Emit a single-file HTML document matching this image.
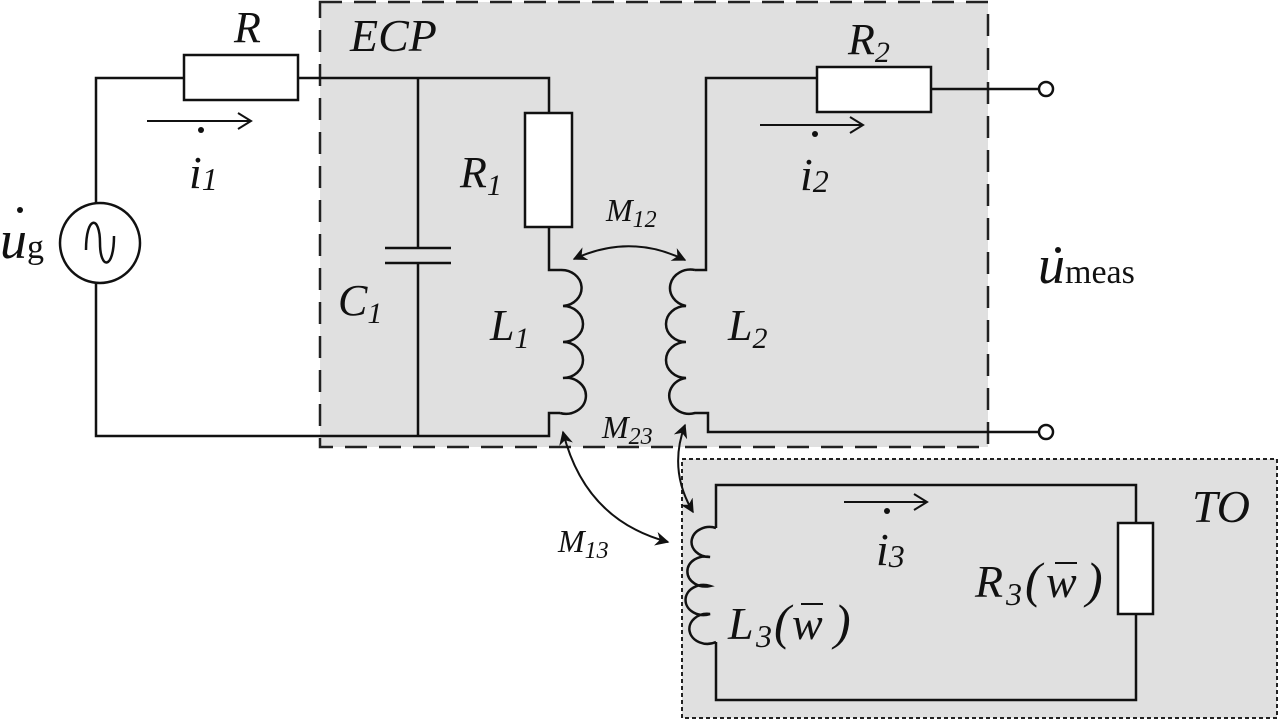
<!DOCTYPE html>
<html><head><meta charset="utf-8"><style>
html,body{margin:0;padding:0;background:#fff}
svg{display:block}
text{font-family:"Liberation Serif",serif;font-style:italic;fill:#111}
</style></head><body>
<svg width="1280" height="721" viewBox="0 0 1280 721" xmlns="http://www.w3.org/2000/svg">
<defs>
<marker id="a" viewBox="0 0 10 10" refX="9" refY="5" markerWidth="7" markerHeight="7" orient="auto-start-reverse"><path d="M0,0 L10,5 L0,10 L3,5 z" fill="#111"/></marker>
</defs>
<rect x="320" y="2" width="668" height="445" fill="#e0e0e0" stroke="#222" stroke-width="2.5" stroke-dasharray="22,12"/>
<rect x="682" y="459" width="595" height="259" fill="#e0e0e0" stroke="#222" stroke-width="2" stroke-dasharray="4,3"/>
<g fill="none" stroke="#111" stroke-width="2.5">
<path d="M96,203 V78 H184 M298,78 H549 V113 M549,227 V270 H560"/>
<rect x="184" y="55" width="114" height="45" fill="#fff"/>
<circle cx="100" cy="243" r="40" fill="#fff"/>
<path d="M86,250 C86,215 100,215 100,243 C100,270 114,270 114,236"/>
<path d="M96,283 V436 H549 V413 H560"/>
<path d="M418,78 V248 M385,248 H451 M385,263 H451 M418,263 V436"/>
<rect x="525" y="113" width="47" height="114" fill="#fff"/>
<path d="M560,270 A20,18 0 1 1 563,306 A20,18 0 1 1 563,342 A20,18 0 1 1 563,378 A20,18 0 1 1 560,413"/>
<path d="M695,270 H706 V78 H817 M931,89 H1039 M695,270 A20,18 0 1 0 686,306 A20,18 0 1 0 686,342 A20,18 0 1 0 686,378 A20,18 0 1 0 695,413 H708 V432 H1039"/>
<rect x="817" y="67" width="114" height="45" fill="#fff"/>
<circle cx="1046" cy="89" r="7" fill="#fff"/>
<circle cx="1046" cy="432" r="7" fill="#fff"/>
<path d="M716,528 V485 H1136 V523 M1136,614 V700 H716 V642"/>
<rect x="1118" y="523" width="35" height="91" fill="#fff"/>
<path d="M716,528 A18,15 0 1 0 710,557 A18,15 0 1 0 710,586 A18,15 0 1 0 710,614 A18,15 0 1 0 716,642"/>
<path d="M147,121 H250 M238,113 L251,121 L238,129" stroke-width="2"/>
<path d="M760,125 H862 M850,117 L863,125 L850,133" stroke-width="2"/>
<path d="M844,502 H926 M914,494 L927,502 L914,510" stroke-width="2"/>
<path d="M574,259 Q630,233 685,260" stroke-width="2" marker-start="url(#a)" marker-end="url(#a)"/>
<path d="M563,432 Q585,520 668,542" stroke-width="2" marker-start="url(#a)" marker-end="url(#a)"/>
<path d="M685,425 Q668,470 693,512" stroke-width="2" marker-start="url(#a)" marker-end="url(#a)"/>
<path d="M1055,563 H1077 M801,604 H823" stroke-width="2"/>
</g>
<g fill="#111">
<circle cx="201" cy="130" r="3"/><circle cx="815" cy="134" r="3"/><circle cx="887" cy="511" r="3"/>
<circle cx="20" cy="210" r="3"/><circle cx="1058" cy="250" r="3"/>
</g>
<text x="234" y="42" font-size="44">R</text>
<text x="350" y="51" font-size="46">ECP</text>
<text x="848" y="54" font-size="44">R<tspan font-size="30" dy="8">2</tspan></text>
<text x="189" y="188" font-size="46">i<tspan font-size="32" dy="2">1</tspan></text>
<text x="800" y="190" font-size="46">i<tspan font-size="32" dy="2">2</tspan></text>
<text x="876" y="565" font-size="46">i<tspan font-size="32" dy="2">3</tspan></text>
<text x="0" y="258" font-size="54">u<tspan font-style="normal" font-size="34">g</tspan></text>
<text x="1038" y="283" font-size="54">u<tspan font-style="normal" font-size="34">meas</tspan></text>
<text x="460" y="187" font-size="44">R<tspan font-size="30" dy="8">1</tspan></text>
<text x="338" y="315" font-size="44">C<tspan font-size="30" dy="8">1</tspan></text>
<text x="490" y="340" font-size="44">L<tspan font-size="30" dy="8">1</tspan></text>
<text x="728" y="340" font-size="44">L<tspan font-size="30" dy="8">2</tspan></text>
<text x="606" y="221" font-size="32">M<tspan font-size="24" dy="6">12</tspan></text>
<text x="602" y="438" font-size="32">M<tspan font-size="24" dy="6">23</tspan></text>
<text x="558" y="552" font-size="32">M<tspan font-size="24" dy="6">13</tspan></text>
<text x="1192" y="522" font-size="46">TO</text>
<text y="597" font-size="46"><tspan x="975">R</tspan><tspan x="1006" font-size="32" dy="8">3</tspan><tspan x="1025" dy="-8" font-size="50">(</tspan><tspan x="1046">w</tspan><tspan x="1086" font-size="50">)</tspan></text>
<text y="639" font-size="46"><tspan x="728">L</tspan><tspan x="756" font-size="32" dy="8">3</tspan><tspan x="774" dy="-8" font-size="50">(</tspan><tspan x="792">w</tspan><tspan x="834" font-size="50">)</tspan></text>
</svg>
</body></html>
